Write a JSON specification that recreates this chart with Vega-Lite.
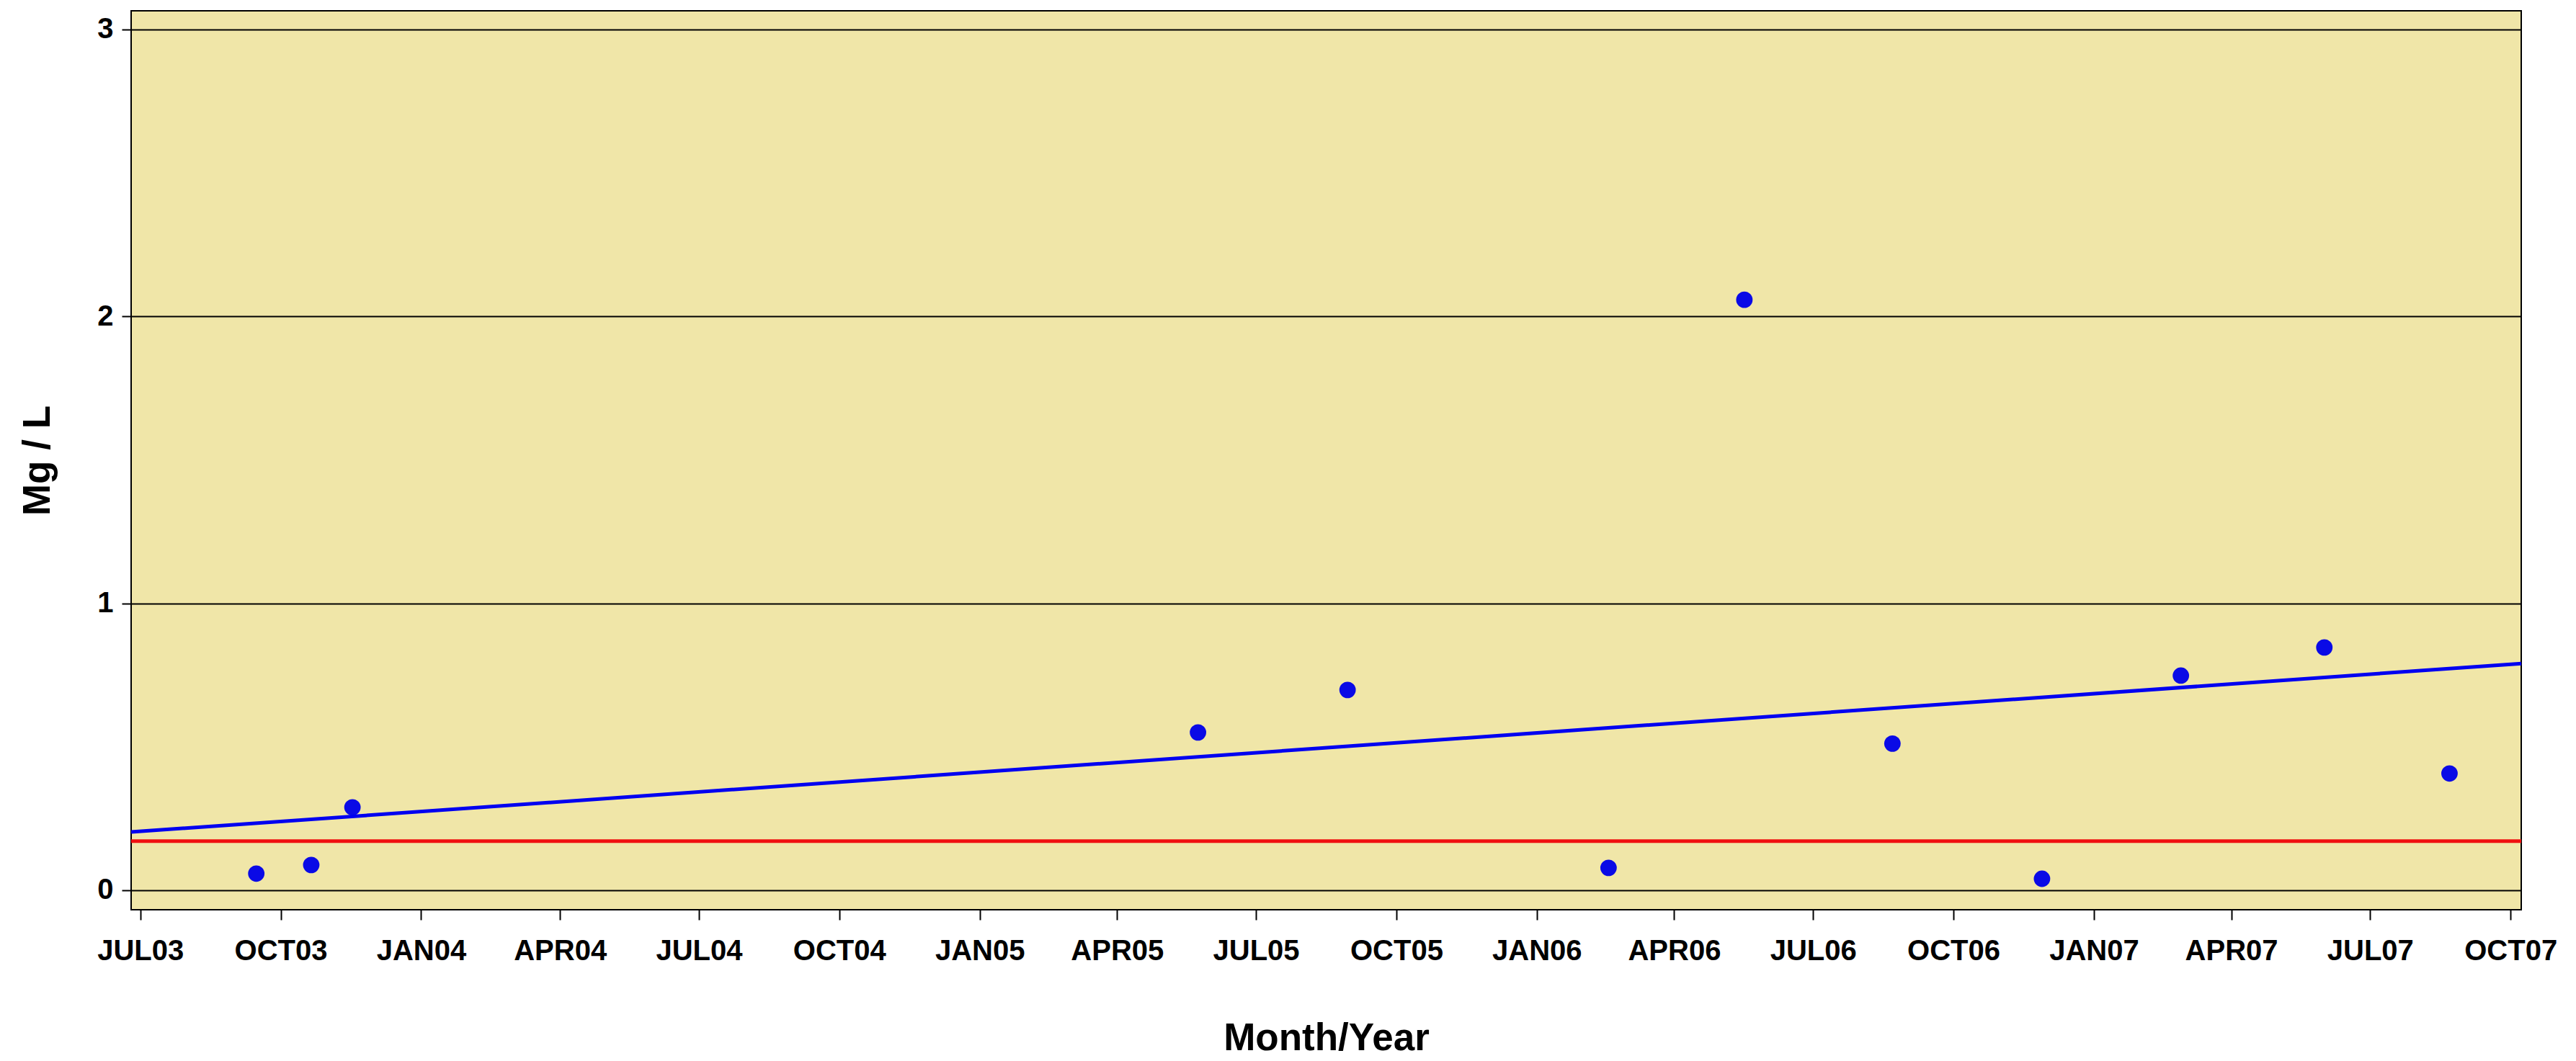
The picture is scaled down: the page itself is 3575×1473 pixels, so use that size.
{
  "$schema": "https://vega.github.io/schema/vega-lite/v6.json",
  "width": 3317,
  "height": 1248,
  "autosize": {"type": "none"},
  "padding": {"left": 182, "top": 15, "right": 76, "bottom": 210},
  "background": "white",
  "config": {
    "view": {"fill": "#F0E6A8", "stroke": "black", "strokeWidth": 2},
    "font": "Liberation Sans"
  },
  "datasets": {
    "samples": [
      {"date": "2003-09-15", "value": 0.058},
      {"date": "2003-10-21", "value": 0.088},
      {"date": "2003-11-17", "value": 0.289},
      {"date": "2005-05-24", "value": 0.55},
      {"date": "2005-08-30", "value": 0.698},
      {"date": "2006-02-17", "value": 0.078},
      {"date": "2006-05-17", "value": 2.058},
      {"date": "2006-08-22", "value": 0.511},
      {"date": "2006-11-28", "value": 0.04},
      {"date": "2007-02-27", "value": 0.748},
      {"date": "2007-06-01", "value": 0.846},
      {"date": "2007-08-22", "value": 0.407}
    ],
    "trend": [
      {"date": "2003-06-25", "value": 0.203},
      {"date": "2007-10-08", "value": 0.79}
    ],
    "limit": [
      {"value": 0.171}
    ]
  },
  "layer": [
    {
      "data": {"name": "samples"},
      "mark": {"type": "circle", "size": 520, "color": "#0A0AE6", "opacity": 1},
      "encoding": {
        "x": {
          "field": "date", "type": "temporal",
          "scale": {"type": "utc", "domain": [{"year": 2003, "month": 6, "date": 25, "utc": true}, {"year": 2007, "month": 10, "date": 8, "utc": true}]},
          "axis": {
            "values": [
              {"year": 2003, "month": 7, "date": 1, "utc": true},
              {"year": 2003, "month": 10, "date": 1, "utc": true},
              {"year": 2004, "month": 1, "date": 1, "utc": true},
              {"year": 2004, "month": 4, "date": 1, "utc": true},
              {"year": 2004, "month": 7, "date": 1, "utc": true},
              {"year": 2004, "month": 10, "date": 1, "utc": true},
              {"year": 2005, "month": 1, "date": 1, "utc": true},
              {"year": 2005, "month": 4, "date": 1, "utc": true},
              {"year": 2005, "month": 7, "date": 1, "utc": true},
              {"year": 2005, "month": 10, "date": 1, "utc": true},
              {"year": 2006, "month": 1, "date": 1, "utc": true},
              {"year": 2006, "month": 4, "date": 1, "utc": true},
              {"year": 2006, "month": 7, "date": 1, "utc": true},
              {"year": 2006, "month": 10, "date": 1, "utc": true},
              {"year": 2007, "month": 1, "date": 1, "utc": true},
              {"year": 2007, "month": 4, "date": 1, "utc": true},
              {"year": 2007, "month": 7, "date": 1, "utc": true},
              {"year": 2007, "month": 10, "date": 1, "utc": true}
            ],
            "labelExpr": "upper(utcFormat(datum.value, '%b%y'))",
            "grid": false,
            "domain": false,
            "tickColor": "black",
            "tickSize": 14,
            "tickWidth": 2,
            "labelFont": "Liberation Sans",
            "labelFontSize": 40,
            "labelFontWeight": "bold",
            "labelColor": "black",
            "labelPadding": 23,
            "labelFlush": false,
            "labelOverlap": false,
            "title": "Month/Year",
            "titleFont": "Liberation Sans",
            "titleFontSize": 53,
            "titleFontWeight": "bold",
            "titleColor": "black",
            "titleY": 194,
            "titleBaseline": "alphabetic"
          }
        },
        "y": {
          "field": "value", "type": "quantitative",
          "scale": {"domain": [-0.068, 3.065], "nice": false, "zero": false},
          "axis": {
            "values": [0, 1, 2, 3],
            "format": "d",
            "grid": true,
            "gridColor": "black",
            "gridWidth": 2,
            "gridOpacity": 1,
            "domain": false,
            "tickColor": "black",
            "tickSize": 13,
            "tickWidth": 2,
            "labelFont": "Liberation Sans",
            "labelFontSize": 40,
            "labelFontWeight": "bold",
            "labelColor": "black",
            "labelPadding": 12,
            "title": "Mg / L",
            "titleFont": "Liberation Sans",
            "titleFontSize": 53,
            "titleFontWeight": "bold",
            "titleColor": "black",
            "titleX": -130,
            "titleY": 624,
            "titleAngle": -90,
            "titleAlign": "center",
            "titleBaseline": "middle"
          }
        }
      }
    },
    {
      "data": {"name": "limit"},
      "mark": {"type": "rule", "color": "#F01010", "strokeWidth": 5},
      "encoding": {
        "y": {"field": "value", "type": "quantitative", "scale": {"domain": [-0.068, 3.065], "nice": false, "zero": false}}
      }
    },
    {
      "data": {"name": "trend"},
      "mark": {"type": "line", "color": "#0000F0", "strokeWidth": 5},
      "encoding": {
        "x": {"field": "date", "type": "temporal", "scale": {"type": "utc", "domain": [{"year": 2003, "month": 6, "date": 25, "utc": true}, {"year": 2007, "month": 10, "date": 8, "utc": true}]}},
        "y": {"field": "value", "type": "quantitative", "scale": {"domain": [-0.068, 3.065], "nice": false, "zero": false}}
      }
    }
  ]
}
